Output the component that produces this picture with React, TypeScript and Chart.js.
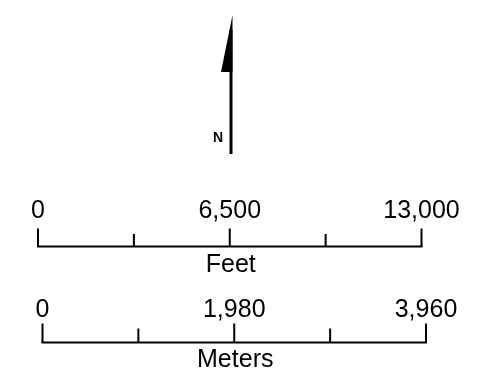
import React, { useEffect, useRef } from "react";
import { Chart, registerables } from "chart.js";

Chart.register(...registerables);

// ---- data ----
const feetTicks = [0, 3250, 6500, 9750, 13000];
const feetLabelValues = [0, 6500, 13000];
const feetLabels = ["0", "6,500", "13,000"];
const feetUnit = "Feet";

const meterTicks = [0, 990, 1980, 2970, 3960];
const meterLabelValues = [0, 1980, 3960];
const meterLabels = ["0", "1,980", "3,960"];
const meterUnit = "Meters";

const northLabel = "N";

// ---- layout (pixels) ----
const W = 490;
const H = 380;
const FONT = "Liberation Sans, Arial, Helvetica, sans-serif";

const FEET = { x0: 38, x1: 421.5, base: 246.5, majorTop: 228.5, minorTop: 234, labelY: 217.5, unitY: 271.5 };
const METER = { x0: 42.5, x1: 426, base: 342.5, majorTop: 323.5, minorTop: 328.5, labelY: 316.5, unitY: 366.5 };

function axisRange(x0: number, x1: number, vmax: number) {
  const perPx = vmax / (x1 - x0);
  const min = -x0 * perPx;
  return { min, max: min + W * perPx };
}

function barDatasets(ticks: number[], labelVals: number[], cfg: typeof FEET, axis: string) {
  const base = {
    xAxisID: axis,
    yAxisID: "y",
    borderColor: "#000",
    borderWidth: 2,
    pointRadius: 0,
    fill: false,
    spanGaps: false,
    tension: 0,
    borderCapStyle: "square" as const,
  };
  const tickPts: any[] = [];
  ticks.forEach((v) => {
    const top = labelVals.includes(v) ? cfg.majorTop : cfg.minorTop;
    tickPts.push({ x: v, y: cfg.base }, { x: v, y: top }, { x: v, y: null });
  });
  return [
    { ...base, label: axis + "-base", data: [{ x: ticks[0], y: cfg.base }, { x: ticks[ticks.length - 1], y: cfg.base }] },
    { ...base, borderCapStyle: "butt" as const, label: axis + "-ticks", data: tickPts },
  ];
}

const labelsPlugin = {
  id: "scaleLabels",
  afterDatasetsDraw(chart: any) {
    const ctx = chart.ctx as CanvasRenderingContext2D;
    const xf = chart.scales.xf;
    const xm = chart.scales.xm;
    const yS = chart.scales.y;
    ctx.save();
    ctx.fillStyle = "#000";
    ctx.textAlign = "center";
    ctx.textBaseline = "alphabetic";
    ctx.font = `25px ${FONT}`;
    feetLabelValues.forEach((v, i) => ctx.fillText(feetLabels[i], xf.getPixelForValue(v), yS.getPixelForValue(FEET.labelY)));
    meterLabelValues.forEach((v, i) => ctx.fillText(meterLabels[i], xm.getPixelForValue(v), yS.getPixelForValue(METER.labelY)));
    ctx.fillText(feetUnit, xf.getPixelForValue(feetTicks[2]) + 1, yS.getPixelForValue(FEET.unitY));
    ctx.fillText(meterUnit, xm.getPixelForValue(meterTicks[2]) + 1, yS.getPixelForValue(METER.unitY));

    // north arrow
    const xp = chart.scales.xp;
    const shaftX = xp.getPixelForValue(231);
    ctx.strokeStyle = "#000";
    ctx.lineWidth = 3;
    ctx.beginPath();
    ctx.moveTo(shaftX, yS.getPixelForValue(30));
    ctx.lineTo(shaftX, yS.getPixelForValue(154));
    ctx.stroke();
    ctx.beginPath();
    ctx.moveTo(xp.getPixelForValue(232.5), yS.getPixelForValue(15));
    ctx.lineTo(xp.getPixelForValue(221), yS.getPixelForValue(72));
    ctx.lineTo(xp.getPixelForValue(232.5), yS.getPixelForValue(72));
    ctx.closePath();
    ctx.fill();
    ctx.font = `bold 14px ${FONT}`;
    ctx.textBaseline = "middle";
    ctx.fillText(northLabel, xp.getPixelForValue(218), yS.getPixelForValue(138.5));
    ctx.restore();
  },
};

export default function App() {
  const ref = useRef<HTMLCanvasElement>(null);
  useEffect(() => {
    const fr = axisRange(FEET.x0, FEET.x1, feetTicks[feetTicks.length - 1]);
    const mr = axisRange(METER.x0, METER.x1, meterTicks[meterTicks.length - 1]);
    const chart = new Chart(ref.current!, {
      type: "line",
      data: {
        datasets: [
          ...barDatasets(feetTicks, feetLabelValues, FEET, "xf"),
          ...barDatasets(meterTicks, meterLabelValues, METER, "xm"),
        ] as any,
      },
      options: {
        animation: false,
        responsive: false,
        parsing: true,
        layout: { padding: 0 },
        plugins: { legend: { display: false }, tooltip: { enabled: false } },
        events: [],
        scales: {
          xf: { type: "linear", display: false, min: fr.min, max: fr.max },
          xm: { type: "linear", display: false, min: mr.min, max: mr.max },
          xp: { type: "linear", display: false, min: 0, max: W, axis: "x" },
          y: { type: "linear", display: false, min: 0, max: H, reverse: true },
        } as any,
      },
      plugins: [labelsPlugin],
    });
    return () => chart.destroy();
  }, []);
  return (
    <div style={{ position: "fixed", left: 0, top: 0, width: W, height: H, background: "#fff" }}>
      <canvas ref={ref} width={W} height={H} style={{ display: "block", width: W, height: H }} />
    </div>
  );
}
